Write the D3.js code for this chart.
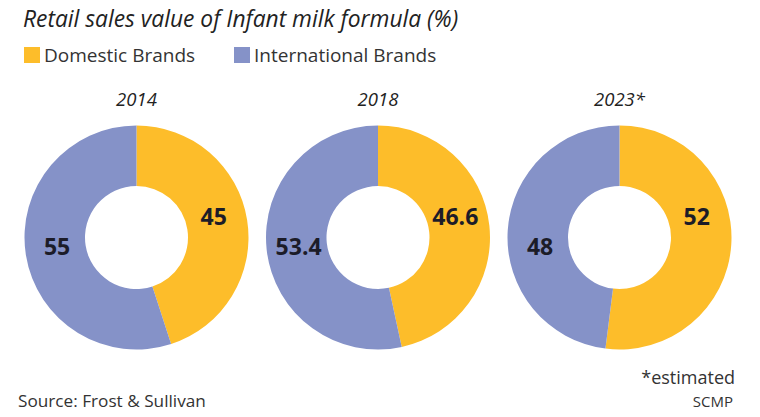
<!DOCTYPE html>
<html><head><meta charset="utf-8">
<script src="https://cdn.jsdelivr.net/npm/d3@7"></script>
<style>body{margin:0;background:#fff;}svg{display:block;font-family:"Open Sans",sans-serif;}</style>
</head><body>
<svg id="c" width="760" height="417"></svg>
<script>
const years = ["2014", "2018", "2023*"];
const series = ["Domestic Brands", "International Brands"];
const domestic = [45, 46.6, 52];
const international = [55, 53.4, 48];
const colors = ["#FDBD2A", "#8592C8"];
// label placement angle (degrees clockwise from top) for each series
const labelAngles = [75, 263];

const svg = d3.select("#c");

svg.append("text").attr("x", 23).attr("y", 27)
  .attr("font-size", 22.8).attr("font-style", "italic").attr("fill", "#222")
  .text("Retail sales value of Infant milk formula (%)");

const legX = [24, 234];
series.forEach((s, i) => {
  svg.append("rect").attr("x", legX[i]).attr("y", 47).attr("width", 16).attr("height", 16).attr("fill", colors[i]);
  svg.append("text").attr("x", legX[i] + 20).attr("y", 62).attr("font-size", 19).attr("fill", "#333").text(s);
});

const x = d3.scalePoint().domain(years).range([136.5, 619.5]);
const color = d3.scaleOrdinal().domain(series).range(colors);
const outerR = 112, innerR = 51.5, cy = 237.5, labelR = 80;
const pie = d3.pie().sort(null).value(d => d.v);
const arc = d3.arc().innerRadius(innerR).outerRadius(outerR);

years.forEach((y, i) => {
  const data = [{k: series[0], v: domestic[i], a: labelAngles[0]}, {k: series[1], v: international[i], a: labelAngles[1]}];
  const g = svg.append("g").attr("transform", `translate(${x(y)},${cy})`);
  svg.append("text").attr("x", x(y)).attr("y", 106).attr("text-anchor", "middle")
    .attr("font-size", 18.5).attr("font-style", "italic").attr("fill", "#222").text(y);
  const arcs = pie(data);
  g.selectAll("path").data(arcs).join("path").attr("d", arc).attr("fill", d => color(d.data.k));
  g.selectAll("text").data(arcs).join("text")
    .attr("transform", d => {
      const t = d.data.a * Math.PI / 180;
      return `translate(${labelR * Math.sin(t)},${-labelR * Math.cos(t)})`;
    })
    .attr("text-anchor", "middle").attr("dy", "0.35em")
    .attr("font-size", 23).attr("font-weight", "bold").attr("fill", "#1c1c28")
    .text(d => d.data.v);
});

svg.append("text").attr("x", 18).attr("y", 407).attr("font-size", 17.2).attr("fill", "#333").text("Source: Frost & Sullivan");
svg.append("text").attr("x", 735).attr("y", 384).attr("text-anchor", "end").attr("font-size", 18).attr("fill", "#333").text("*estimated");
svg.append("text").attr("x", 733).attr("y", 407).attr("text-anchor", "end").attr("font-size", 15).attr("fill", "#333").text("SCMP");
</script>
</body></html>
